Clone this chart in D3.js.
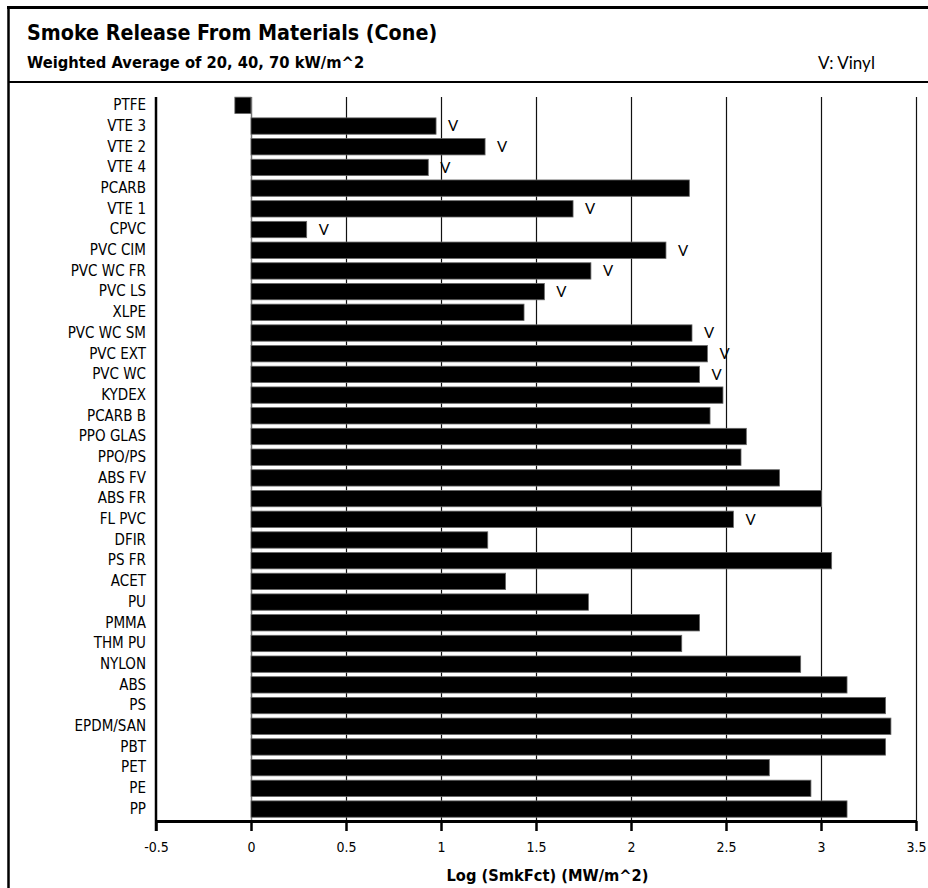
<!DOCTYPE html>
<html>
<head>
<meta charset="utf-8">
<script src="https://cdn.jsdelivr.net/npm/d3@7"></script>
<style>
  html, body { margin: 0; padding: 0; background: #fff; }
  svg { display: block; }
</style>
</head>
<body>
<svg id="chart" width="928" height="888"></svg>
<script>
// ---------- data ----------
const categories = ["PTFE","VTE 3","VTE 2","VTE 4","PCARB","VTE 1","CPVC","PVC CIM","PVC WC FR","PVC LS","XLPE","PVC WC SM","PVC EXT","PVC WC","KYDEX","PCARB B","PPO GLAS","PPO/PS","ABS FV","ABS FR","FL PVC","DFIR","PS FR","ACET","PU","PMMA","THM PU","NYLON","ABS","PS","EPDM/SAN","PBT","PET","PE","PP"];
const values = [-0.085,0.974,1.232,0.933,2.307,1.695,0.293,2.184,1.789,1.544,1.437,2.321,2.402,2.361,2.484,2.416,2.607,2.579,2.782,3.003,2.539,1.246,3.056,1.340,1.776,2.361,2.267,2.893,3.137,3.340,3.368,3.340,2.728,2.947,3.137];
const vinylMaterials = ["VTE 3","VTE 2","VTE 4","VTE 1","CPVC","PVC CIM","PVC WC FR","PVC LS","PVC WC SM","PVC EXT","PVC WC","FL PVC"];
const xTicks = [-0.5,0,0.5,1,1.5,2,2.5,3,3.5];
const titleText = "Smoke Release From Materials (Cone)";
const subtitleText = "Weighted Average of 20, 40, 70 kW/m^2";
const legendText = "V: Vinyl";
const xAxisTitle = "Log (SmkFct) (MW/m^2)";

// ---------- layout ----------
const narrow = "'Liberation Sans Narrow','Arial Narrow','DejaVu Sans Condensed',sans-serif";
const plain = "Lato,'Open Sans',sans-serif";
const plotTop = 97, plotBottom = 821, plotLeft = 156, plotRight = 916;

const svg = d3.select("#chart");

// frame
svg.append("line").attr("x1", 8.5).attr("x2", 8.5).attr("y1", 6).attr("y2", 888)
  .attr("stroke", "#000").attr("stroke-width", 2.5);
svg.append("line").attr("x1", 7).attr("x2", 928).attr("y1", 7.5).attr("y2", 7.5)
  .attr("stroke", "#000").attr("stroke-width", 3);
svg.append("line").attr("x1", 8).attr("x2", 928).attr("y1", 82).attr("y2", 82)
  .attr("stroke", "#000").attr("stroke-width", 2);

// header
svg.append("text").attr("x", 27).attr("y", 39.5)
  .attr("font-family", narrow).attr("font-weight", "bold").attr("font-size", 21.3)
  .attr("fill", "#000").text(titleText);
svg.append("text").attr("x", 27).attr("y", 67.5)
  .attr("font-family", narrow).attr("font-weight", "bold").attr("font-size", 16.4)
  .attr("fill", "#000").text(subtitleText);
svg.append("text").attr("x", 818).attr("y", 68.5)
  .attr("font-family", plain).attr("font-size", 17)
  .attr("fill", "#000").text(legendText);

// scales
const x = d3.scaleLinear().domain([-0.5, 3.5]).range([plotLeft, plotRight]);
const y = d3.scaleBand().domain(categories).range([95, 819.4])
  .paddingInner(0.21).paddingOuter(0.105);

// gridlines
svg.append("g").selectAll("line").data(xTicks.filter(d => d > -0.5)).join("line")
  .attr("x1", d => Math.round(x(d)) + 0.5).attr("x2", d => Math.round(x(d)) + 0.5)
  .attr("y1", plotTop).attr("y2", plotBottom)
  .attr("stroke", d => d === 0 ? "#777" : "#111").attr("stroke-width", d => d === 0 ? 1.5 : 1.2);

// bars
svg.append("g").selectAll("rect").data(categories).join("rect")
  .attr("x", (d, i) => x(Math.min(0, values[i])))
  .attr("width", (d, i) => Math.abs(x(values[i]) - x(0)))
  .attr("y", d => y(d))
  .attr("height", y.bandwidth())
  .attr("fill", "#000")
  .attr("stroke", "#666").attr("stroke-width", 0.8);

// vinyl markers
svg.append("g").selectAll("text").data(categories.filter(c => vinylMaterials.includes(c))).join("text")
  .attr("x", d => x(values[categories.indexOf(d)]) + 12)
  .attr("y", d => y(d) + y.bandwidth() / 2)
  .attr("dy", "0.36em")
  .attr("font-family", plain).attr("font-size", 15)
  .attr("fill", "#000").text("V");

// y axis (labels only) + axis line
const yAxis = svg.append("g").attr("transform", `translate(${plotLeft},0)`)
  .call(d3.axisLeft(y).tickSize(0).tickPadding(10));
yAxis.select(".domain").remove();
yAxis.selectAll("text").attr("font-family", narrow).attr("font-size", 15).attr("fill", "#000");
svg.append("line").attr("x1", plotLeft).attr("x2", plotLeft)
  .attr("y1", plotTop).attr("y2", plotBottom + 10)
  .attr("stroke", "#000").attr("stroke-width", 2.5);

// x axis
const xAxis = svg.append("g").attr("transform", `translate(0,${plotBottom})`)
  .call(d3.axisBottom(x).tickValues(xTicks).tickSizeInner(10).tickSizeOuter(0)
    .tickPadding(11).tickFormat(d => String(d)));
xAxis.select(".domain").attr("stroke", "#000").attr("stroke-width", 3);
xAxis.selectAll(".tick line").attr("stroke", "#000").attr("stroke-width", 2.5);
xAxis.selectAll(".tick text").attr("font-family", narrow).attr("font-size", 14).attr("fill", "#000");

// x axis title
svg.append("text").attr("x", 547.5).attr("y", 881).attr("text-anchor", "middle")
  .attr("font-family", narrow).attr("font-weight", "bold").attr("font-size", 16.3)
  .attr("fill", "#000").text(xAxisTitle);
</script>
</body>
</html>
